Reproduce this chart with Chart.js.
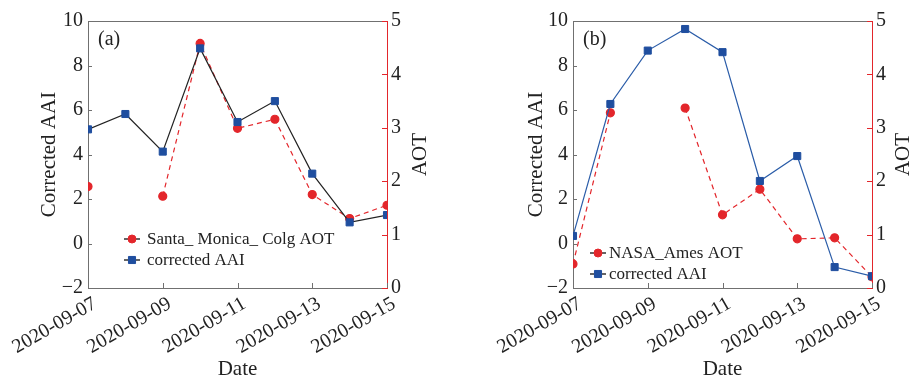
<!DOCTYPE html>
<html>
<head>
<meta charset="utf-8">
<script src="https://cdn.jsdelivr.net/npm/chart.js@4.4.1/dist/chart.umd.min.js"></script>
<style>
  body { margin: 0; background: #fff; }
  #wrap { position: relative; width: 912px; height: 382px; }
  .panel { position: absolute; top: 0; width: 456px; height: 382px; }
</style>
</head>
<body>
<div id="wrap">
  <div class="panel" style="left:0"><canvas id="chartA" width="456" height="382"></canvas></div>
  <div class="panel" style="left:456px"><canvas id="chartB" width="456" height="382"></canvas></div>
</div>
<script>
// values, one per day
const dates = ['2020-09-07', '2020-09-08', '2020-09-09', '2020-09-10', '2020-09-11',
               '2020-09-12', '2020-09-13', '2020-09-14', '2020-09-15'];

// panel (a) - Santa_Monica_Colg
const aaiA = [5.13, 5.82, 4.13, 8.77, 5.46, 6.40, 3.14, 0.95, 1.28];
const aotA = [1.90, null, 1.72, 4.58, 2.99, 3.16, 1.75, 1.30, 1.55];

// panel (b) - NASA_Ames
const aaiB = [0.34, 6.27, 8.67, 9.64, 8.60, 2.81, 3.93, -1.06, -1.47];
const aotB = [0.45, 3.28, null, 3.37, 1.37, 1.85, 0.92, 0.94, 0.21];

const FONT = "'Liberation Serif', 'Times New Roman', serif";
const TEXT = '#222';
const FRAME = '#707070';
const RED = '#e3262b';
const BLUE = '#1f4e9f';

// draws the bits Chart.js has no option for: inward ticks, top border,
// bottom-to-top AOT title, panel tag and the in-plot legend
const extras = {
    id: 'extras',
    afterDraw(chart, args, opts) {
        const { ctx, chartArea: a, scales } = chart;
        ctx.save();

        // top border
        ctx.strokeStyle = FRAME;
        ctx.lineWidth = 1;
        ctx.beginPath();
        ctx.moveTo(a.left, a.top + 0.5);
        ctx.lineTo(a.right, a.top + 0.5);
        ctx.stroke();

        // inward tick marks
        ctx.beginPath();
        dates.forEach((d, i) => {
            if (i % 2 !== 0) return;
            const x = Math.round(scales.x.getPixelForValue(i)) + 0.5;
            ctx.moveTo(x, a.bottom);
            ctx.lineTo(x, a.bottom - 5);
        });
        scales.y.ticks.forEach(t => {
            const y = Math.round(scales.y.getPixelForValue(t.value)) + 0.5;
            ctx.moveTo(a.left, y);
            ctx.lineTo(a.left + 4, y);
        });
        ctx.stroke();

        ctx.strokeStyle = RED;
        ctx.beginPath();
        scales.y1.ticks.forEach(t => {
            const y = Math.round(scales.y1.getPixelForValue(t.value)) + 0.5;
            ctx.moveTo(a.right, y);
            ctx.lineTo(a.right - 5, y);
        });
        ctx.stroke();

        // right axis title, reading bottom to top
        ctx.fillStyle = TEXT;
        ctx.font = '21px ' + FONT;
        ctx.textAlign = 'center';
        ctx.textBaseline = 'middle';
        ctx.save();
        ctx.translate(opts.aotX, (a.top + a.bottom) / 2);
        ctx.rotate(-Math.PI / 2);
        ctx.fillText('AOT', 0, 0);
        ctx.restore();

        // panel tag
        ctx.font = '20px ' + FONT;
        ctx.textAlign = 'left';
        ctx.fillText(opts.tag, a.left + 10, a.top + 19);

        // legend
        ctx.font = '17px ' + FONT;
        opts.legend.forEach((item, k) => {
            const ds = chart.data.datasets[item.ds];
            const y = opts.legendY + k * opts.legendGap;
            const x0 = opts.legendX;
            ctx.strokeStyle = '#333';
            ctx.lineWidth = 1.3;
            ctx.setLineDash([]);
            ctx.beginPath();
            ctx.moveTo(x0, y); ctx.lineTo(x0 + 4, y);
            ctx.moveTo(x0 + 12, y); ctx.lineTo(x0 + 16, y);
            ctx.stroke();
            ctx.fillStyle = ds.pointBackgroundColor;
            ctx.strokeStyle = ds.pointBorderColor;
            ctx.lineWidth = 1;
            Chart.helpers.drawPoint(ctx, {
                pointStyle: ds.pointStyle,
                radius: ds.pointRadius,
                borderWidth: 1
            }, x0 + 8, y);
            ctx.fillStyle = TEXT;
            ctx.fillText(item.text, x0 + opts.textOffset, y + 1);
        });

        ctx.restore();
    }
};

function makeChart(id, aai, aot, aaiLine, cfg) {
    const ctx = document.getElementById(id).getContext('2d');
    return new Chart(ctx, {
        type: 'line',
        data: {
            labels: dates,
            datasets: [
                {
                    label: 'corrected AAI',
                    data: aai,
                    yAxisID: 'y',
                    borderColor: aaiLine,
                    borderWidth: 1.2,
                    pointStyle: 'rect',
                    pointRadius: 5,
                    pointBackgroundColor: BLUE,
                    pointBorderColor: BLUE,
                    pointBorderWidth: 1,
                    backgroundColor: BLUE,
                    tension: 0,
                    clip: 0,
                    order: 0
                },
                {
                    label: 'AOT',
                    data: aot,
                    yAxisID: 'y1',
                    borderColor: RED,
                    borderWidth: 1.2,
                    borderDash: [5, 4],
                    pointStyle: 'circle',
                    pointRadius: 4,
                    pointBackgroundColor: RED,
                    pointBorderColor: RED,
                    backgroundColor: RED,
                    spanGaps: false,
                    tension: 0,
                    clip: 0,
                    order: 1
                }
            ]
        },
        options: {
            responsive: false,
            animation: false,
            devicePixelRatio: 1,
            layout: { padding: { left: cfg.padLeft, top: 21, right: 0, bottom: 0 } },
            plugins: {
                legend: { display: false },
                tooltip: { enabled: false },
                extras: cfg.extras
            },
            scales: {
                x: {
                    type: 'category',
                    offset: false,
                    grid: { drawOnChartArea: false, drawTicks: false },
                    border: { color: FRAME, width: 1 },
                    ticks: {
                        autoSkip: false,
                        minRotation: 30,
                        maxRotation: 30,
                        padding: 4,
                        labelOffset: 7,
                        color: TEXT,
                        font: { family: FONT, size: 20 },
                        callback: (v, i) => (i % 2 === 0 ? dates[i] : '')
                    },
                    title: {
                        display: true,
                        text: 'Date',
                        color: TEXT,
                        padding: 0,
                        font: { family: FONT, size: 21 }
                    },
                    afterFit: s => { s.height = 94; }
                },
                y: {
                    position: 'left',
                    min: -2,
                    max: 10,
                    grid: { drawOnChartArea: false, drawTicks: false },
                    border: { color: FRAME, width: 1 },
                    ticks: {
                        stepSize: 2,
                        padding: 5,
                        color: TEXT,
                        font: { family: FONT, size: 20 },
                        callback: v => (v < 0 ? '\u2212' + Math.abs(v) : v)
                    },
                    title: {
                        display: true,
                        text: 'Corrected AAI',
                        color: TEXT,
                        padding: 0,
                        font: { family: FONT, size: 21 }
                    },
                    afterFit: s => { s.width = cfg.yWidth; }
                },
                y1: {
                    position: 'right',
                    min: 0,
                    max: 5,
                    grid: { drawOnChartArea: false, drawTicks: false },
                    border: { color: RED, width: 1 },
                    ticks: {
                        stepSize: 1,
                        padding: 4,
                        color: TEXT,
                        font: { family: FONT, size: 20 }
                    },
                    afterFit: s => { s.width = cfg.y1Width; }
                }
            }
        },
        plugins: [extras]
    });
}

makeChart('chartA', aaiA, aotA, '#222', {
    padLeft: 37, yWidth: 51, y1Width: 69,
    extras: {
        tag: '(a)', aotX: 420,
        legendX: 124, legendY: 239, legendGap: 21, textOffset: 23,
        legend: [
            { ds: 1, text: 'Santa_ Monica_ Colg AOT' },
            { ds: 0, text: 'corrected AAI' }
        ]
    }
});

makeChart('chartB', aaiB, aotB, '#2a5ca8', {
    padLeft: 68, yWidth: 49, y1Width: 40,
    extras: {
        tag: '(b)', aotX: 447,
        legendX: 134, legendY: 253, legendGap: 21, textOffset: 19,
        legend: [
            { ds: 1, text: 'NASA_Ames AOT' },
            { ds: 0, text: 'corrected AAI' }
        ]
    }
});
</script>
</body>
</html>
